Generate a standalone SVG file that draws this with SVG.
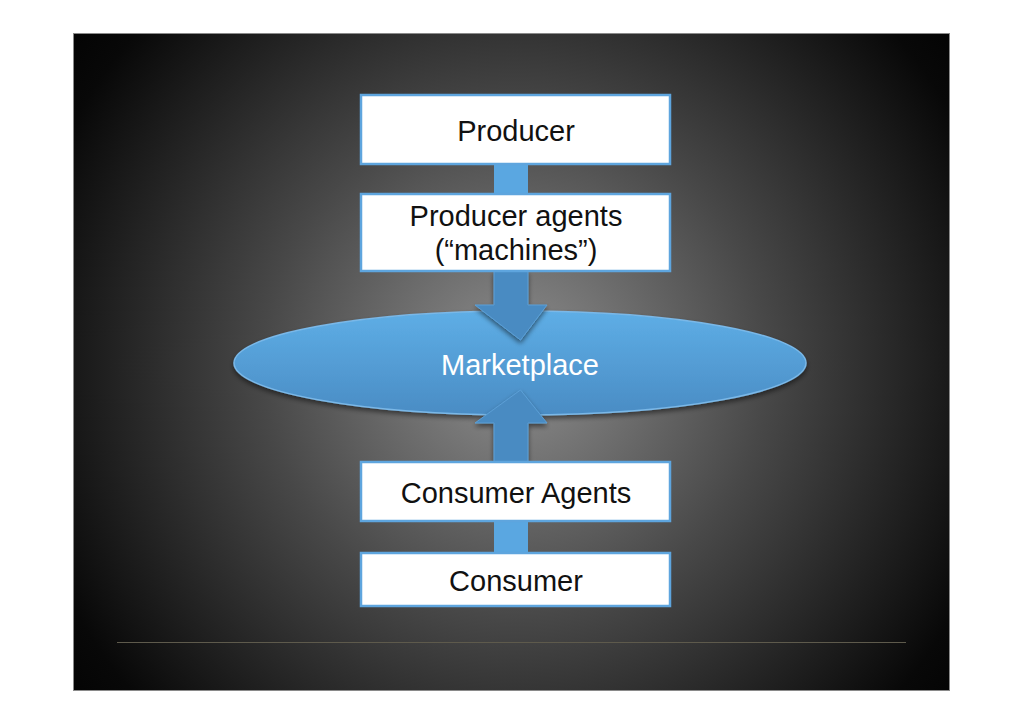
<svg xmlns="http://www.w3.org/2000/svg" width="1024" height="724" viewBox="0 0 1024 724">
<defs>
<radialGradient id="bg" gradientUnits="userSpaceOnUse" cx="515" cy="365" r="560">
<stop offset="0" stop-color="#8f8f8f"/>
<stop offset="0.45" stop-color="#484848"/>
<stop offset="0.9" stop-color="#080808"/>
<stop offset="1" stop-color="#030303"/>
</radialGradient>
<linearGradient id="ell" x1="0" y1="0" x2="0" y2="1">
<stop offset="0" stop-color="#5eaee6"/>
<stop offset="1" stop-color="#4a8cc4"/>
</linearGradient>
<filter id="sh" x="-10%" y="-20%" width="120%" height="150%">
<feGaussianBlur in="SourceAlpha" stdDeviation="2.5"/>
<feOffset dx="0" dy="3"/>
<feComponentTransfer><feFuncA type="linear" slope="0.5"/></feComponentTransfer>
<feMerge><feMergeNode/><feMergeNode in="SourceGraphic"/></feMerge>
</filter>
<style>
.box{fill:#ffffff;stroke:#5ea5de;stroke-width:2.5}
.t{font-family:"Liberation Sans",Arial,sans-serif;font-size:29px;fill:#111;text-anchor:middle}
.bar{fill:#5aa7e1}
.arr{fill:#4a8bc2;stroke:#5b9fd6;stroke-width:1}
</style>
</defs>
<rect x="0" y="0" width="1024" height="724" fill="#ffffff"/>
<rect x="73.5" y="33.5" width="876" height="657" fill="url(#bg)" stroke="#8a8a8a" stroke-width="1"/>
<line x1="117" y1="642.5" x2="906" y2="642.5" stroke="#5e5a4c" stroke-width="1"/>

<g id="connectors">
<rect class="bar" x="494" y="164" width="34" height="30"/>
<rect class="bar" x="494" y="521" width="34" height="32"/>
</g>

<g id="marketplace">
<ellipse cx="520" cy="363" rx="286" ry="52" fill="url(#ell)" stroke="#7ab8e8" stroke-width="1.5" filter="url(#sh)"/>
<text class="t" x="520" y="375" style="fill:#ffffff">Marketplace</text>
</g>

<g id="arrows">
<path class="arr" d="M494,271 H528 V305 H547 L520.5,340 L475,305 H494 Z" filter="url(#sh)"/>
<path class="arr" d="M494,462 V423 H475 L520.5,390 L547,423 H528 V462 Z" filter="url(#sh)"/>
</g>

<g id="producer">
<rect class="box" x="361" y="95" width="309" height="69"/>
<text class="t" x="516" y="141">Producer</text>
</g>

<g id="producer-agents">
<rect class="box" x="361" y="194" width="309" height="77"/>
<text class="t" x="516" y="226">Producer agents</text>
<text class="t" x="516" y="260">(“machines”)</text>
</g>

<g id="consumer-agents">
<rect class="box" x="361" y="462" width="309" height="59"/>
<text class="t" x="516" y="503">Consumer Agents</text>
</g>

<g id="consumer">
<rect class="box" x="361" y="553" width="309" height="53"/>
<text class="t" x="516" y="591">Consumer</text>
</g>
</svg>
